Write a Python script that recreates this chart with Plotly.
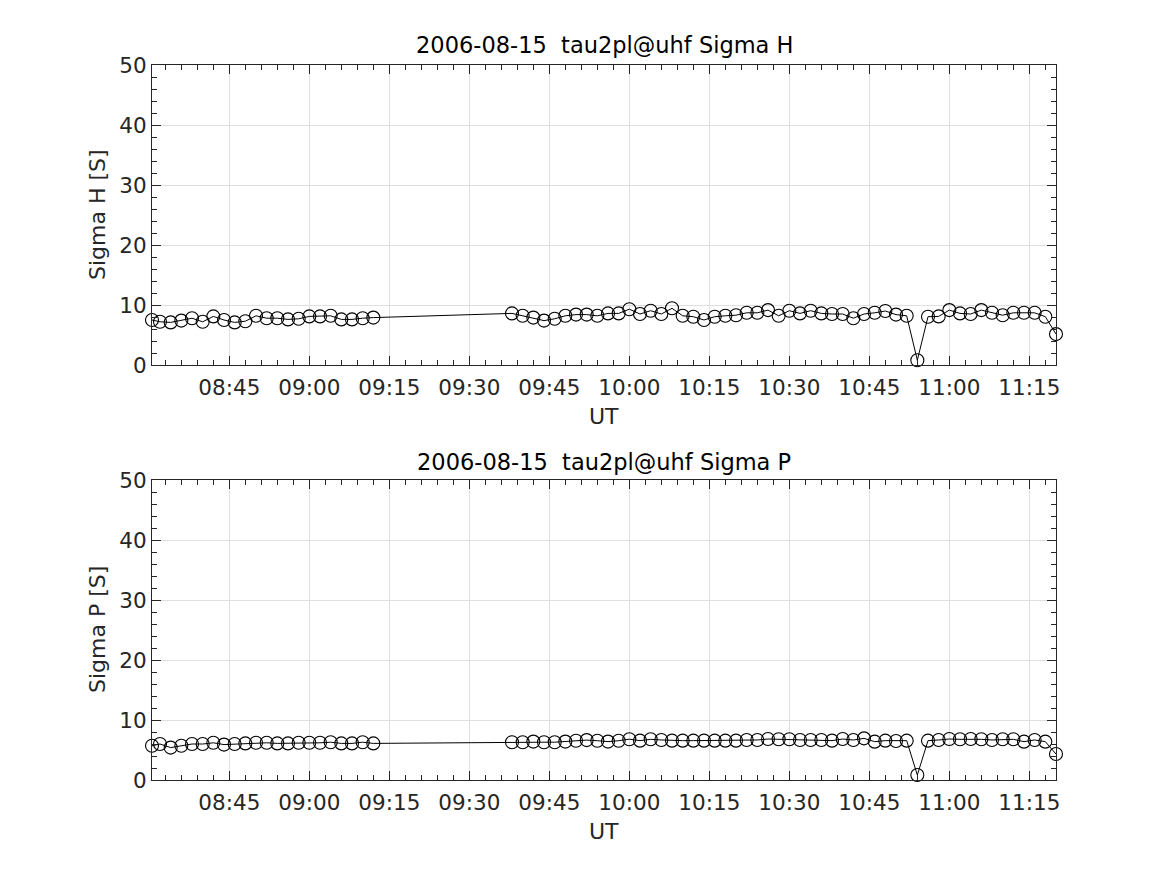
import plotly.graph_objects as go
from plotly.subplots import make_subplots

times = [
    "2006-08-15 08:30:30", "2006-08-15 08:32:00", "2006-08-15 08:34:00", "2006-08-15 08:36:00",
    "2006-08-15 08:38:00", "2006-08-15 08:40:00", "2006-08-15 08:42:00", "2006-08-15 08:44:00",
    "2006-08-15 08:46:00", "2006-08-15 08:48:00", "2006-08-15 08:50:00", "2006-08-15 08:52:00",
    "2006-08-15 08:54:00", "2006-08-15 08:56:00", "2006-08-15 08:58:00", "2006-08-15 09:00:00",
    "2006-08-15 09:02:00", "2006-08-15 09:04:00", "2006-08-15 09:06:00", "2006-08-15 09:08:00",
    "2006-08-15 09:10:00", "2006-08-15 09:12:00",
    "2006-08-15 09:38:00", "2006-08-15 09:40:00", "2006-08-15 09:42:00", "2006-08-15 09:44:00",
    "2006-08-15 09:46:00", "2006-08-15 09:48:00", "2006-08-15 09:50:00", "2006-08-15 09:52:00",
    "2006-08-15 09:54:00", "2006-08-15 09:56:00", "2006-08-15 09:58:00", "2006-08-15 10:00:00",
    "2006-08-15 10:02:00", "2006-08-15 10:04:00", "2006-08-15 10:06:00", "2006-08-15 10:08:00",
    "2006-08-15 10:10:00", "2006-08-15 10:12:00", "2006-08-15 10:14:00", "2006-08-15 10:16:00",
    "2006-08-15 10:18:00", "2006-08-15 10:20:00", "2006-08-15 10:22:00", "2006-08-15 10:24:00",
    "2006-08-15 10:26:00", "2006-08-15 10:28:00", "2006-08-15 10:30:00", "2006-08-15 10:32:00",
    "2006-08-15 10:34:00", "2006-08-15 10:36:00", "2006-08-15 10:38:00", "2006-08-15 10:40:00",
    "2006-08-15 10:42:00", "2006-08-15 10:44:00", "2006-08-15 10:46:00", "2006-08-15 10:48:00",
    "2006-08-15 10:50:00", "2006-08-15 10:52:00", "2006-08-15 10:54:00", "2006-08-15 10:56:00",
    "2006-08-15 10:58:00", "2006-08-15 11:00:00", "2006-08-15 11:02:00", "2006-08-15 11:04:00",
    "2006-08-15 11:06:00", "2006-08-15 11:08:00", "2006-08-15 11:10:00", "2006-08-15 11:12:00",
    "2006-08-15 11:14:00", "2006-08-15 11:16:00", "2006-08-15 11:18:00", "2006-08-15 11:20:00",
]

sigma_h = [
    7.5, 7.2, 7.1, 7.4, 7.8, 7.2, 8.1, 7.5, 7.1, 7.3, 8.2, 7.8, 7.8, 7.6, 7.7, 8.1,
    8.1, 8.2, 7.6, 7.6, 7.8, 7.9,
    8.6, 8.2, 7.9, 7.4, 7.7, 8.2, 8.4, 8.4, 8.2, 8.6, 8.6, 9.3,
    8.5, 9.05, 8.5, 9.45, 8.2, 8.05, 7.5, 8.05, 8.2, 8.3, 8.7, 8.7,
    9.15, 8.2, 9.05, 8.6, 9.05, 8.6, 8.5, 8.5, 7.8, 8.5, 8.7, 9.0,
    8.4, 8.2, 0.8, 8.05, 8.1, 9.15, 8.6, 8.5, 9.15, 8.7, 8.3, 8.7,
    8.7, 8.7, 8.05, 5.15,
]

sigma_p = [
    5.7, 6.0, 5.4, 5.7, 6.0, 6.0, 6.2, 5.9, 6.0, 6.1, 6.2, 6.2, 6.1, 6.1, 6.2, 6.2,
    6.2, 6.3, 6.1, 6.1, 6.3, 6.1,
    6.3, 6.3, 6.4, 6.3, 6.3, 6.4, 6.55, 6.65, 6.55, 6.4, 6.55, 6.8,
    6.56, 6.78, 6.67, 6.56, 6.56, 6.56, 6.56, 6.56, 6.56, 6.56, 6.67, 6.67,
    6.83, 6.78, 6.78, 6.67, 6.67, 6.67, 6.56, 6.83, 6.67, 6.94, 6.39, 6.56,
    6.5, 6.56, 0.83, 6.56, 6.67, 6.83, 6.78, 6.83, 6.78, 6.67, 6.78, 6.78,
    6.39, 6.67, 6.39, 4.33,
]

titles = ["2006-08-15  tau2pl@uhf Sigma H", "2006-08-15  tau2pl@uhf Sigma P"]
ylabels = ["Sigma H [S]", "Sigma P [S]"]
xlabel = "UT"

FONT = "DejaVu Sans"
AX = "#262626"
GRID = "#dfdfdf"

# page offset (default body margin) and plot-area pixel geometry on the page
OFF = 8
FW, FH = 1167 - OFF, 875 - OFF
L, R, T, B = 152, 1056, 65, 780
W, H = R - L, B - T

def px(x):
    return (x - L) / W

def py(y):
    return (B - y) / H

fig = make_subplots(rows=2, cols=1, vertical_spacing=0.0)

for i, vals in enumerate([sigma_h, sigma_p]):
    fig.add_trace(go.Scatter(
        x=times, y=vals, mode="lines+markers",
        line=dict(color="black", width=1),
        marker=dict(symbol="circle-open", size=13, color="black", line=dict(width=1.1)),
        showlegend=False, cliponaxis=False,
    ), row=i + 1, col=1)

xa = dict(
    type="date", range=[times[0], times[-1]],
    tick0="2006-08-15 08:45:00", dtick=900000, tickformat="%H:%M",
    ticks="inside", ticklen=9, tickwidth=1, tickcolor=AX,
    minor=dict(dtick=180000, ticks="inside", ticklen=5, tickcolor=AX, showgrid=False),
    showline=True, linecolor=AX, linewidth=1, mirror="allticks",
    showgrid=True, gridcolor=GRID, gridwidth=1,
    tickfont=dict(family=FONT, size=21.5, color=AX),
    zeroline=False, fixedrange=True, ticklabelstandoff=3,
)
ya = dict(
    range=[0, 50], dtick=10, tick0=0,
    ticks="inside", ticklen=9, tickwidth=1, tickcolor=AX,
    minor=dict(dtick=2, ticks="inside", ticklen=5, tickcolor=AX, showgrid=False),
    showline=True, linecolor=AX, linewidth=1, mirror="allticks",
    showgrid=True, gridcolor=GRID, gridwidth=1,
    tickfont=dict(family=FONT, size=21.5, color=AX),
    zeroline=False, fixedrange=True, ticklabelstandoff=0,
)

fig.update_layout(
    xaxis=dict(xa, domain=[0, 1]),
    xaxis2=dict(xa, domain=[0, 1]),
    yaxis=dict(ya, domain=[py(365), 1]),
    yaxis2=dict(ya, domain=[0, py(480)]),
)

annotations = []
title_y = [45, 462]
ut_y = [416, 831]
ylab_mid = [215, 630]
for i in range(2):
    annotations.append(dict(text=titles[i], x=px(604), y=py(title_y[i]), xref="paper", yref="paper",
                            xanchor="center", yanchor="middle", showarrow=False,
                            font=dict(family=FONT, size=22.5, color="black")))
    annotations.append(dict(text=xlabel, x=px(604), y=py(ut_y[i]), xref="paper", yref="paper",
                            xanchor="center", yanchor="middle", showarrow=False,
                            font=dict(family=FONT, size=22, color=AX)))
    annotations.append(dict(text=ylabels[i], x=px(97), y=py(ylab_mid[i]), xref="paper", yref="paper",
                            xanchor="center", yanchor="middle", showarrow=False, textangle=-90,
                            font=dict(family=FONT, size=22, color=AX)))

fig.update_layout(
    width=FW, height=FH,
    margin=dict(l=L - OFF, r=FW - (R - OFF), t=T - OFF, b=FH - (B - OFF), autoexpand=False),
    paper_bgcolor="white", plot_bgcolor="white",
    annotations=annotations,
)

fig.write_html("out.html")
